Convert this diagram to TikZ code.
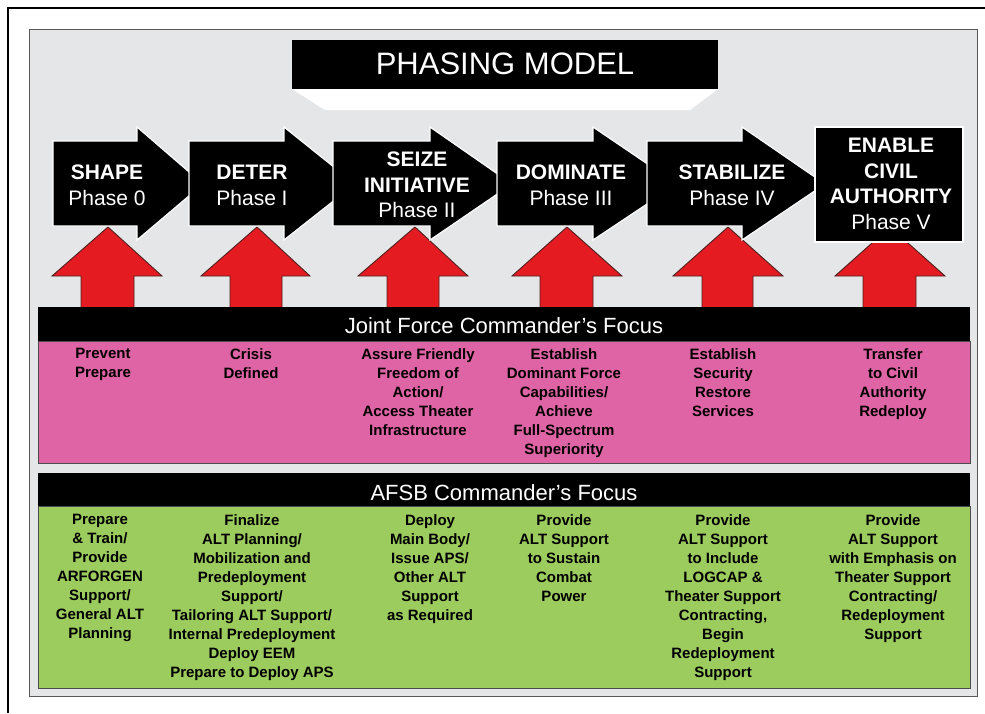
\documentclass[tikz,border=0pt]{standalone}
\usepackage{fontspec}
\setmainfont{Liberation Sans}
\definecolor{panelgray}{RGB}{229,230,231}
\definecolor{pinkband}{RGB}{222,100,165}
\definecolor{greenband}{RGB}{156,204,94}
\definecolor{arrowred}{RGB}{228,28,34}
\definecolor{arrowedge}{RGB}{80,30,30}
\tikzset{
  phasearrow/.style={fill=black, draw=white, line width=1.2pt, line join=miter},
  redarrow/.style={fill=arrowred, draw=arrowedge, line width=0.9pt, line join=miter},
  phasetext/.style={text=white, align=center, anchor=north, inner sep=0pt, font=\fontsize{21}{25.5}\selectfont},
  bodytext/.style={text=black, align=center, anchor=north, inner sep=0pt, font=\bfseries\fontsize{15}{19}\selectfont},
  headtext/.style={text=white, anchor=base, inner sep=0pt, font=\fontsize{22}{26}\selectfont},
}
\begin{document}
\begin{tikzpicture}[x=1pt,y=-1pt]
\useasboundingbox (0,0) rectangle (985,713);
% outer frame
\draw[line width=2.5pt] (8,713) -- (8,8) -- (985,8);
% gray panel
\draw[fill=panelgray, draw=black!65, line width=1pt] (29,29) rectangle (977,696);
% title
\fill[white] (292,89) -- (718,89) -- (690,110) -- (325,110) -- cycle;
\fill[black] (292,40) rectangle (718,89);
\node[text=white, anchor=base, inner sep=0pt, font=\fontsize{31}{36}\selectfont] (title) at (505,74) {PHASING MODEL};
% red up arrows (behind the phase arrows)
\foreach \hl/\tp/\hr/\sl/\sr in {52/108/162/81/134, 201/257/310/230/282, 358/415/468/387/439, 512/567/622/540/593, 673/728/783/702/753, 835/890/945/863/916}{
  \draw[redarrow] (\sl,310) -- (\sl,276) -- (\hl,276) -- (\tp,227) -- (\hr,276) -- (\sr,276) -- (\sr,310) -- cycle;
}
% phase arrows
\draw[phasearrow] (53,141) -- (137,141) -- (137,127) -- (203,184) -- (137,240) -- (137,226) -- (53,226) -- cycle;
\draw[phasearrow] (189,141) -- (284,141) -- (284,127) -- (355,184) -- (284,240) -- (284,226) -- (189,226) -- cycle;
\draw[phasearrow] (333,141) -- (430,141) -- (430,127) -- (512,184) -- (430,240) -- (430,226) -- (333,226) -- cycle;
\draw[phasearrow] (497,141) -- (593,141) -- (593,127) -- (677,184) -- (593,240) -- (593,226) -- (497,226) -- cycle;
\draw[phasearrow] (647,141) -- (742,141) -- (742,127) -- (825,184) -- (742,240) -- (742,226) -- (647,226) -- cycle;
\draw[phasearrow] (815,127) rectangle (963,242);
\node[phasetext] (p0) at (107,165) {\textbf{SHAPE}\\Phase 0};
\node[phasetext] (p1) at (252,165) {\textbf{DETER}\\Phase I};
\node[phasetext] (p2) at (417,152) {\textbf{SEIZE}\\\textbf{INITIATIVE}\\Phase II};
\node[phasetext] (p3) at (571,165) {\textbf{DOMINATE}\\Phase III};
\node[phasetext] (p4) at (732,165) {\textbf{STABILIZE}\\Phase IV};
\node[phasetext] (p5) at (891,138) {\textbf{ENABLE}\\\textbf{CIVIL}\\\textbf{AUTHORITY}\\Phase V};
% joint force band
\draw[fill=pinkband, draw=black!70, line width=1pt] (38,341) rectangle (970,463);
\fill[black] (38,307) rectangle (970,341);
\node[headtext] (jfc) at (504,333) {Joint Force Commander’s Focus};
\node[bodytext] (j1) at (103,348) {Prevent\\Prepare};
\node[bodytext] (j2) at (251,348) {Crisis\\Defined};
\node[bodytext] (j3) at (418,348) {Assure Friendly\\Freedom of\\Action/\\Access Theater\\Infrastructure};
\node[bodytext] (j4) at (564,348) {Establish\\Dominant Force\\Capabilities/\\Achieve\\Full-Spectrum\\Superiority};
\node[bodytext] (j5) at (723,348) {Establish\\Security\\Restore\\Services};
\node[bodytext] (j6) at (893,348) {Transfer\\to Civil\\Authority\\Redeploy};
% AFSB band
\draw[fill=greenband, draw=black!70, line width=1pt] (38,506) rectangle (970,688);
\fill[black] (38,473) rectangle (970,506);
\node[headtext] (afsb) at (504,500) {AFSB Commander’s Focus};
\node[bodytext] (a1) at (100,514) {Prepare\\\& Train/\\Provide\\ARFORGEN\\Support/\\General ALT\\Planning};
\node[bodytext] (a2) at (252,514) {Finalize\\ALT Planning/\\Mobilization and\\Predeployment\\Support/\\Tailoring ALT Support/\\Internal Predeployment\\Deploy EEM\\Prepare to Deploy APS};
\node[bodytext] (a3) at (430,514) {Deploy\\Main Body/\\Issue APS/\\Other ALT\\Support\\as Required};
\node[bodytext] (a4) at (564,514) {Provide\\ALT Support\\to Sustain\\Combat\\Power};
\node[bodytext] (a5) at (723,514) {Provide\\ALT Support\\to Include\\LOGCAP \&\\Theater Support\\Contracting,\\Begin\\Redeployment\\Support};
\node[bodytext] (a6) at (893,514) {Provide\\ALT Support\\with Emphasis on\\Theater Support\\Contracting/\\Redeployment\\Support};
\end{tikzpicture}
\end{document}
